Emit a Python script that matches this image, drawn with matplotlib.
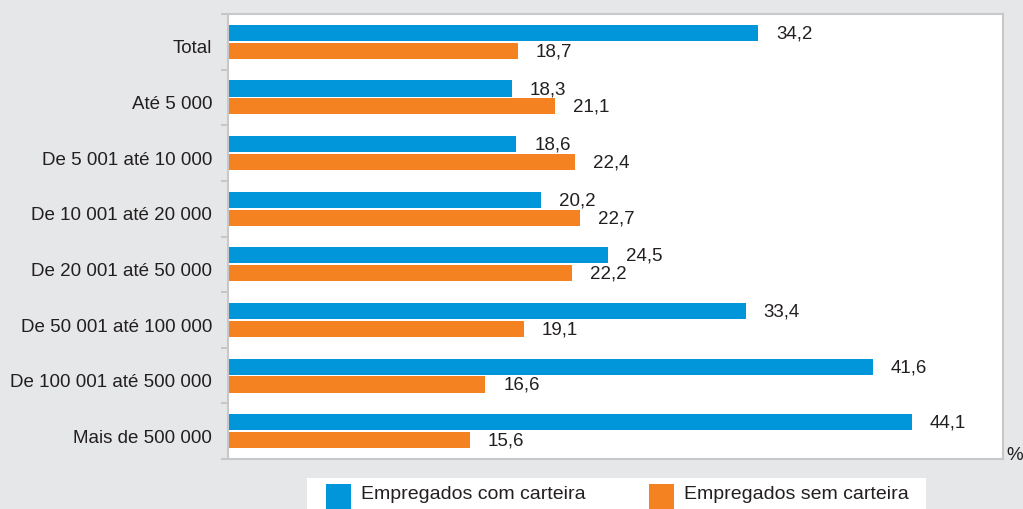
import matplotlib
matplotlib.use("Agg")
import matplotlib.pyplot as plt
from matplotlib.patches import Rectangle
from matplotlib.transforms import ScaledTranslation
import numpy as np

categories = ["Total", "Até 5 000", "De 5 001 até 10 000", "De 10 001 até 20 000",
              "De 20 001 até 50 000", "De 50 001 até 100 000", "De 100 001 até 500 000",
              "Mais de 500 000"]
com_carteira = [34.2, 18.3, 18.6, 20.2, 24.5, 33.4, 41.6, 44.1]
sem_carteira = [18.7, 21.1, 22.4, 22.7, 22.2, 19.1, 16.6, 15.6]
series_names = ["Empregados com carteira", "Empregados sem carteira"]

BLUE = "#0096d9"
ORANGE = "#f58220"
BG = "#e6e7e8"
TXT = "#231f20"

plt.rcParams['font.family'] = ['Liberation Sans', 'DejaVu Sans']

W, H = 1023, 510
fig = plt.figure(figsize=(W/100, H/100), dpi=100, facecolor=BG)
ax = fig.add_axes([228/W, 1-460/H, (1003-228)/W, (460-15)/H])
ax.set_facecolor("white")

y = np.arange(len(categories))
h = 0.29
off = 0.16
ax.barh(y - off, com_carteira, height=h, color=BLUE)
ax.barh(y + off, sem_carteira, height=h, color=ORANGE)

def fmt(v):
    return f"{v:.1f}".replace(".", ",")

for yi, v in zip(y, com_carteira):
    ax.annotate(fmt(v), (v, yi - off), xytext=(13, 0), textcoords="offset points",
                va="center", ha="left", fontsize=13.5, color=TXT)
for yi, v in zip(y, sem_carteira):
    ax.annotate(fmt(v), (v, yi + off), xytext=(13, 0), textcoords="offset points",
                va="center", ha="left", fontsize=13.5, color=TXT)

ax.set_xlim(0, 50)
ax.set_ylim(len(categories) - 0.5, -0.5)
ax.set_xticks([])
ax.set_yticks(y)
ax.set_yticklabels(categories, fontsize=13.5, color=TXT)
ax.tick_params(axis="y", length=0, pad=11.5)
for lab in ax.get_yticklabels():
    lab.set_transform(lab.get_transform() + ScaledTranslation(0, -3/72, fig.dpi_scale_trans))
ax.set_yticks(np.arange(-0.5, len(categories), 1), minor=True)
ax.tick_params(axis="y", which="minor", length=5, color="#c0c0c0", width=1.2)
for s in ax.spines.values():
    s.set_color("#c8c8c8")
    s.set_linewidth(1.5)

fig.text(1006/W, 1-455/H, "%", fontsize=13.5, color=TXT, ha="left", va="center")

# legend box
fig.patches.append(Rectangle((307/W, 0), (926-307)/W, (510-479)/H,
                             transform=fig.transFigure, facecolor="white", edgecolor="none"))
for x0, col, name in [(326, BLUE, series_names[0]), (649, ORANGE, series_names[1])]:
    fig.patches.append(Rectangle((x0/W, 0), 25/W, (510-485)/H,
                                 transform=fig.transFigure, facecolor=col, edgecolor="none"))
    fig.text((x0+35)/W, 1-495/H, name, fontsize=14, color=TXT, ha="left", va="center")

fig.savefig("out.png", dpi=100, facecolor=BG)
